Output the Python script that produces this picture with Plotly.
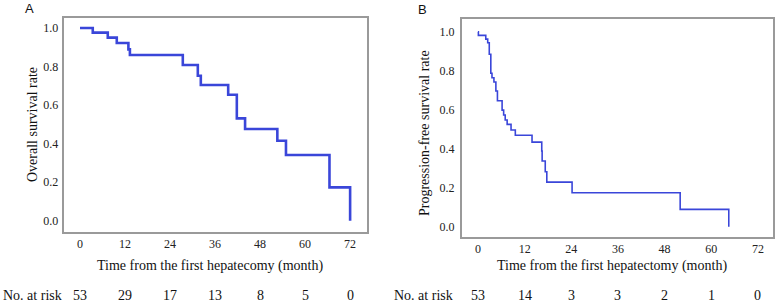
import plotly.graph_objects as go

# Panel A: overall survival
os_time = [0, 3.4, 7.4, 9.8, 12.9, 13.3, 27.4, 31.4, 32.2, 39.5, 41.8, 44.0, 52.6, 54.9, 66.5, 72.0]
os_surv = [1.0, 0.976, 0.950, 0.922, 0.889, 0.860, 0.808, 0.752, 0.704, 0.654, 0.531, 0.476, 0.415, 0.341, 0.173, 0.0]

# Panel B: progression-free survival
pfs_time = [0, 0.1, 2.0, 2.5, 2.9, 3.3, 3.6, 4.1, 4.6, 5.0, 6.2, 6.6, 7.0, 7.5, 8.5, 9.6,
            13.9, 16.4, 16.5, 17.3, 17.7, 24.2, 52.0, 64.5]
pfs_surv = [1.0, 0.981, 0.962, 0.943, 0.884, 0.787, 0.764, 0.742, 0.696, 0.646, 0.598, 0.573,
            0.547, 0.525, 0.496, 0.469, 0.434, 0.388, 0.337, 0.282, 0.229, 0.174, 0.089, 0.0]

x_ticks = [0, 12, 24, 36, 48, 60, 72]
y_ticks = [0.0, 0.2, 0.4, 0.6, 0.8, 1.0]
risk_a = [53, 29, 17, 13, 8, 5, 0]
risk_b = [53, 14, 3, 3, 2, 1, 0]

W, H = 775, 302
BLUE = "#3a46d9"
SERIF = "Liberation Serif, Times New Roman, serif"
SANS = "Liberation Sans, Arial, sans-serif"

def px_x(v):
    return v / W

def px_y(v):
    return (H - v) / H

fig = go.Figure()
fig.add_trace(go.Scatter(x=os_time, y=os_surv, mode="lines", line=dict(shape="hv", color=BLUE, width=2.6),
                         xaxis="x", yaxis="y", showlegend=False, hoverinfo="skip"))
fig.add_trace(go.Scatter(x=pfs_time, y=pfs_surv, mode="lines", line=dict(shape="hv", color=BLUE, width=1.6),
                         xaxis="x2", yaxis="y2", showlegend=False, hoverinfo="skip"))

axis_common = dict(showline=True, linecolor="#9a9a9a", linewidth=1.5, mirror=True, showgrid=False,
                   zeroline=False, ticks="", tickfont=dict(family=SERIF, size=12, color="#222"))

fig.update_layout(
    width=W, height=H, margin=dict(l=0, r=0, t=0, b=0),
    paper_bgcolor="white", plot_bgcolor="white",
    xaxis=dict(domain=[px_x(63.5), px_x(367)], range=[-4.4, 76.5], tickvals=x_ticks, anchor="y",
               ticklabelstandoff=0, **axis_common),
    yaxis=dict(domain=[px_y(232.3), px_y(18)], range=[-0.060, 1.052], tickvals=y_ticks, tickformat=".1f",
               anchor="x", ticklabelstandoff=1, **axis_common),
    xaxis2=dict(domain=[px_x(461.7), px_x(772.7)], range=[-4.19, 75.8], tickvals=x_ticks, anchor="y2",
                ticklabelstandoff=0, **axis_common),
    yaxis2=dict(domain=[px_y(236.7), px_y(19)], range=[-0.051, 1.065], tickvals=y_ticks, tickformat=".1f",
                anchor="x2", ticklabelstandoff=3, **axis_common),
)

ann = []
def text(x, y, s, size=14, family=SERIF, angle=0, xanchor="center", xref="paper"):
    ann.append(dict(x=x, y=px_y(y), xref=xref, yref="paper", text=s, showarrow=False, textangle=angle,
                    font=dict(family=family, size=size, color="#111"), xanchor=xanchor, yanchor="middle"))

text(px_x(29.5), 8, "A", size=13, family=SANS)
text(px_x(422.5), 9, "B", size=13, family=SANS)
text(px_x(210), 266, "Time from the first hepatecomy (month)")
text(px_x(612), 266, "Time from the first hepatectomy (month)")
text(px_x(32), 125, "Overall survival rate", angle=-90)
text(px_x(424), 133, "Progression-free survival rate", angle=-90)
text(px_x(1), 295, "No. at risk", xanchor="left")
text(px_x(392), 295, "No. at risk", xanchor="left")
for t, n in zip(x_ticks, risk_a):
    text(t, 295, str(n), xref="x")
for t, n in zip(x_ticks, risk_b):
    text(t, 295, str(n), xref="x2")

fig.update_layout(annotations=ann)
fig.write_html("out.html", config={"displayModeBar": False})

# remove the default page margin so the figure sits at the window's top-left corner
with open("out.html", "r", encoding="utf-8") as f:
    html = f.read()
html = html.replace("<head>", "<head><style>html,body{margin:0;padding:0;overflow:hidden;}</style>", 1)
with open("out.html", "w", encoding="utf-8") as f:
    f.write(html)
